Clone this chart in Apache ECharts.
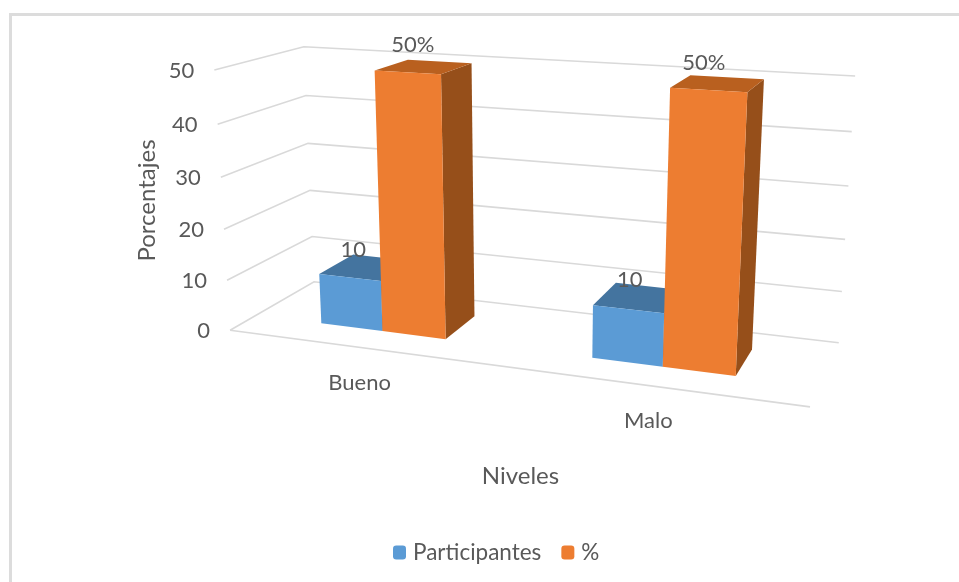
<!DOCTYPE html>
<html>
<head>
<meta charset="utf-8">
<style>html,body{margin:0;padding:0;background:#fff}#chart{width:959px;height:582px}</style>
<script src="https://cdn.jsdelivr.net/npm/echarts@6/dist/echarts.min.js"></script>
</head>
<body>
<div id="chart"></div>
<script>
// Chart values
const categories = ['Bueno', 'Malo'];
const participantes = [10, 10];
const porcentaje = [50, 50];
const valueTicks = [0, 10, 20, 30, 40, 50];
const valueMax = 50;

// Styling
const FONT = 'Lato';
const TEXT = '#595959';
const GRIDLINE = '#d9d9d9';
const BLUE = { front: '#5b9bd5', top: '#44749f', side: '#35597b' };
const ORANGE = { front: '#ed7d31', top: '#b9601f', side: '#964f1a' };

// The value/category plane of the cartesian grid is the front plane of the 3D box.
const plot = { left: 231, top: 70, width: 579, height: 261 };

// Box corners and wall tick ends as seen by the camera: [across, depth, height, screenX, screenY].
const cameraAnchors = [
  [0, 0, 0.0, 230, 331], [0, 0, 0.2, 227, 281], [0, 0, 0.4, 224, 229],
  [0, 0, 0.6, 221, 177], [0, 0, 0.8, 218, 124], [0, 0, 1.0, 214, 70],
  [0, 1, 0.0, 314, 280], [0, 1, 0.2, 312, 236.7], [0, 1, 0.4, 310, 190.7],
  [0, 1, 0.6, 308, 144], [0, 1, 0.8, 306, 95.7], [0, 1, 1.0, 304, 46.5],
  [1, 1, 0.0, 839, 343], [1, 1, 0.2, 842, 292], [1, 1, 0.4, 845, 240],
  [1, 1, 0.6, 848, 186], [1, 1, 0.8, 852, 131], [1, 1, 1.0, 855, 76],
  [1, 0, 0.0, 810, 406]
];

// Least-squares fit of a 3x4 projective camera (p34 = 1) to the anchors.
function fitCamera(anchors) {
  const n = 11;
  const A = Array.from({ length: n }, () => new Array(n + 1).fill(0));
  const add = (row, rhs) => {
    for (let i = 0; i < n; i++) {
      for (let j = 0; j < n; j++) A[i][j] += row[i] * row[j];
      A[i][n] += row[i] * rhs;
    }
  };
  anchors.forEach(([a, b, c, x, y]) => {
    add([a, b, c, 1, 0, 0, 0, 0, -x * a, -x * b, -x * c], x);
    add([0, 0, 0, 0, a, b, c, 1, -y * a, -y * b, -y * c], y);
  });
  for (let i = 0; i < n; i++) {
    let pivot = i;
    for (let r = i + 1; r < n; r++) if (Math.abs(A[r][i]) > Math.abs(A[pivot][i])) pivot = r;
    [A[i], A[pivot]] = [A[pivot], A[i]];
    for (let r = 0; r < n; r++) {
      if (r === i) continue;
      const f = A[r][i] / A[i][i];
      for (let c = i; c <= n; c++) A[r][c] -= f * A[i][c];
    }
  }
  return A.map((row, i) => row[n] / row[i]);
}
const cam = fitCamera(cameraAnchors);

function project(a, b, c) {
  const d = cam[8] * a + cam[9] * b + cam[10] * c + 1;
  return [
    (cam[0] * a + cam[1] * b + cam[2] * c + cam[3]) / d,
    (cam[4] * a + cam[5] * b + cam[6] * c + cam[7]) / d
  ];
}

// Grid pixels to box coordinates
const toAcross = (px) => (px - plot.left) / plot.width;
const toHeight = (py) => (plot.top + plot.height - py) / plot.height;

const textEl = (text, pos, size, align) => ({
  type: 'text',
  style: {
    text, x: pos[0], y: pos[1], fill: TEXT,
    font: size + 'px ' + FONT, align: align || 'center', verticalAlign: 'middle'
  }
});

// Bar geometry in box units
const gapWidth = 2.2;
const depthFront = 0.29;
const depthBack = 0.72;
const tickLabelGap = 20;
const categoryLabelDrop = 35.5;
const valueLabelShift = [
  [[-13.5, -18], [-9.5, -18]],
  [[-11, -22], [-14, -21]]
];
const valueLabelText = [(v) => String(v), (v) => v + '%'];

function renderWall(params, api) {
  const p = api.coord([0, api.value(1)]);
  const h = toHeight(p[1]);
  const points = [project(0, 0, h), project(0, 1, h), project(1, 1, h)];
  const children = [{
    type: 'polyline',
    shape: { points },
    style: { stroke: GRIDLINE, lineWidth: 1.6, fill: null }
  }];
  if (api.value(1) === 0) {
    children.push({
      type: 'polyline',
      shape: { points: [project(0, 0, 0), project(1, 0, 0)] },
      style: { stroke: GRIDLINE, lineWidth: 1.6, fill: null }
    });
  }
  const labelAt = project(0, 0, h);
  children.push(textEl(String(api.value(1)), [labelAt[0] - tickLabelGap, labelAt[1] + 1], 22, 'right'));
  return { type: 'group', children };
}

function renderCategory(params, api) {
  const p = api.coord([api.value(0), 0]);
  const at = project(toAcross(p[0]), 0, 0);
  return textEl(categories[api.value(0)], [at[0], at[1] + categoryLabelDrop], 22);
}

function barRenderer(seriesPos, colors) {
  return function (params, api) {
    const cat = api.value(0);
    const top = api.coord([cat, api.value(1)]);
    const band = api.size([1, 0])[0] / plot.width;
    const width = band / (2 + gapWidth);
    const a0 = toAcross(top[0]) + (seriesPos - 1) * width;
    const a1 = a0 + width;
    const h = toHeight(top[1]);
    const [b0, b1] = [depthFront, depthBack];
    const P = project;
    const poly = (points, fill) => ({ type: 'polygon', shape: { points }, style: { fill } });
    const centre = P((a0 + a1) / 2, (b0 + b1) / 2, h);
    const shift = valueLabelShift[seriesPos][cat];
    return {
      type: 'group',
      children: [
        poly([P(a1, b0, 0), P(a1, b1, 0), P(a1, b1, h), P(a1, b0, h)], colors.side),
        poly([P(a0, b0, h), P(a1, b0, h), P(a1, b1, h), P(a0, b1, h)], colors.top),
        poly([P(a0, b0, 0), P(a1, b0, 0), P(a1, b0, h), P(a0, b0, h)], colors.front),
        textEl(valueLabelText[seriesPos](api.value(1)), [centre[0] + shift[0], centre[1] + shift[1]], 22)
      ]
    };
  };
}

const pairs = (values) => values.map((v, i) => [i, v]);

const chart = echarts.init(document.getElementById('chart'), null, { renderer: 'canvas' });
chart.setOption({
  animation: false,
  backgroundColor: '#ffffff',
  textStyle: { fontFamily: FONT },
  grid: { left: plot.left, top: plot.top, width: plot.width, height: plot.height, containLabel: false },
  xAxis: {
    type: 'category',
    data: categories,
    name: 'Niveles',
    nameLocation: 'middle',
    nameGap: 133,
    nameTextStyle: { color: TEXT, fontSize: 24, fontFamily: FONT },
    axisLine: { show: false },
    axisTick: { show: false },
    axisLabel: { show: false },
    splitLine: { show: false }
  },
  yAxis: {
    type: 'value',
    min: 0,
    max: valueMax,
    interval: 10,
    name: 'Porcentajes',
    nameLocation: 'middle',
    nameGap: 72,
    nameTextStyle: { color: TEXT, fontSize: 24, fontFamily: FONT },
    axisLine: { show: false },
    axisTick: { show: false },
    axisLabel: { show: false },
    splitLine: { show: false }
  },
  legend: {
    left: 388,
    top: 536,
    itemWidth: 13,
    itemHeight: 14,
    itemGap: 20,
    data: ['Participantes', '%'],
    textStyle: { color: TEXT, fontSize: 22.5, fontFamily: FONT, padding: [0, 0, 0, 2] }
  },
  graphic: [
    { type: 'rect', silent: true, shape: { x: 9, y: 13, width: 950, height: 3 }, style: { fill: '#dcdcdc' } },
    { type: 'rect', silent: true, shape: { x: 9, y: 13, width: 3, height: 569 }, style: { fill: '#dcdcdc' } }
  ],
  series: [
    { type: 'custom', silent: true, renderItem: renderWall, data: valueTicks.map((t) => [0, t]), z: 1 },
    { type: 'custom', silent: true, renderItem: renderCategory, data: pairs(categories.map(() => 0)), z: 1 },
    {
      type: 'custom', name: 'Participantes', silent: true,
      renderItem: barRenderer(0, BLUE), data: pairs(participantes),
      itemStyle: { color: BLUE.front }, z: 2
    },
    {
      type: 'custom', name: '%', silent: true,
      renderItem: barRenderer(1, ORANGE), data: pairs(porcentaje),
      itemStyle: { color: ORANGE.front }, z: 3
    }
  ]
});
</script>
</body>
</html>
